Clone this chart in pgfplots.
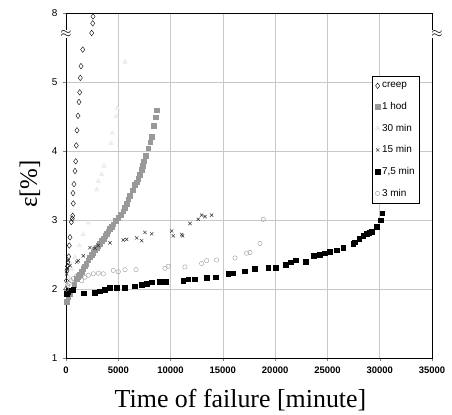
\documentclass[border=0pt]{standalone}
\usepackage{fontspec}
\setmainfont{Liberation Serif}
\newfontfamily\arial{Liberation Sans}
\usepackage{pgfplots}
\pgfplotsset{compat=1.18}
\definecolor{gridgray}{HTML}{C8C8C8}
\definecolor{hodgray}{HTML}{999999}
\definecolor{trigray}{HTML}{EDEDED}
\begin{document}
\begin{tikzpicture}
\useasboundingbox (-66bp,-57bp) rectangle (386bp,358bp);
\begin{axis}[
  scale only axis, width=366bp, height=345bp,
  xmin=0, xmax=35000, ymin=1, ymax=6,
  xtick={0,5000,...,35000},
  ytick={1,2,3,4,5,6}, yticklabels={1,2,3,4,5,8},
  scaled x ticks=false,
  x tick label style={font=\arial\bfseries\fontsize{9.5}{10}\selectfont, /pgf/number format/1000 sep={}, yshift=-2bp},
  y tick label style={font=\arial\fontsize{10}{11}\selectfont, xshift=-2bp},
  /pgf/number format/assume math mode=true,
  xtick pos=left, ytick pos=left, tick align=outside,
  major tick length=3bp,
  grid=major, major grid style={gridgray, line width=0.6pt},
  axis line style={black, line width=0.7pt},
  xlabel={Time of failure [minute]},
  xlabel style={font=\fontsize{26}{28}\selectfont, at={(rel axis cs:0.5,0)}, anchor=center, yshift=-42bp, xshift=-8.5bp},
  legend style={at={(rel axis cs:0.836,0.817)}, anchor=north west, draw=black, line width=0.5pt,
    font=\arial\fontsize{10}{11}\selectfont, inner xsep=3bp, inner ysep=4bp, row sep=9bp,
    cells={anchor=west}},
  legend image code/.code={\draw[#1] plot coordinates {(0.1cm,0cm)};},
  clip=true,
]
% creep
\addplot[only marks, mark=diamond, mark size=2.8bp, mark options={black, line width=0.4pt, fill=white}] coordinates {
(0,2.0)(48,2.12)(96,2.27)(150,2.33)(191,2.39)(258,2.47)(315,2.63)(382,2.75)(507,2.97)(600,3.02)(640,3.06)(698,3.24)(669,3.39)(765,3.52)(860,3.71)(927,3.85)(985,4.08)(1052,4.30)(1147,4.51)(1243,4.71)(1310,4.85)(1367,5.06)(1434,5.23)(1597,5.47)(2457,5.71)(2550,5.85)(2581,5.95)};
\addlegendentry{creep}
% 1 hod
\addplot[only marks, mark=square*, mark size=2.3bp, mark options={hodgray, draw=hodgray}] coordinates {
(67,1.82)(200,1.88)(350,1.93)(545,1.98)(780,2.06)(1023,2.15)(1160,2.18)(1300,2.21)(1480,2.25)(1654,2.29)(1800,2.33)(1950,2.37)(2120,2.42)(2294,2.46)(2450,2.50)(2600,2.53)(2770,2.57)(2935,2.60)(3090,2.63)(3250,2.66)(3420,2.70)(3600,2.73)(3750,2.77)(3891,2.80)(4050,2.84)(4200,2.87)(4360,2.90)(4522,2.94)(4760,2.99)(5000,3.03)(5240,3.08)(5478,3.13)(5640,3.18)(5800,3.24)(5960,3.30)(6118,3.35)(6350,3.43)(6596,3.51)(6750,3.55)(6900,3.60)(7070,3.66)(7237,3.73)(7350,3.79)(7457,3.85)(7650,3.93)(7868,4.04)(8050,4.13)(8193,4.21)(8413,4.37)(8604,4.49)(8671,4.59)};
\addlegendentry{1 hod}
% 30 min
\addplot[only marks, mark=triangle*, mark size=2.8bp, mark options={trigray, draw=trigray}] coordinates {
(124,2.07)(315,2.17)(545,2.29)(860,2.46)(1272,2.63)(1654,2.79)(2130,2.96)(2935,3.44)(3090,3.56)(3410,3.66)(3633,3.78)(4302,4.11)(4430,4.26)(4780,4.50)(4905,4.62)(5640,5.29)};
\addlegendentry{30 min}
% 15 min
\addplot[only marks, mark=x, mark size=2.3bp, mark options={black!80, line width=0.5pt}] coordinates {
(60,2.22)(100,2.28)(150,2.31)(220,2.41)(382,2.34)(1023,2.39)(1176,2.41)(1654,2.48)(2294,2.60)(2772,2.59)(3090,2.63)(4206,2.67)(5478,2.71)(5800,2.72)(6759,2.74)(7237,2.70)(7552,2.82)(8193,2.80)(10105,2.84)(10258,2.77)(11061,2.79)(11150,2.77)(11854,2.95)(12648,3.01)(12973,3.07)(13288,3.05)(13929,3.07)};
\addlegendentry{15 min}
% 7.5 min
\addplot[only marks, mark=square*, mark size=2.3bp, mark options={black}] coordinates {
(67,1.93)(220,1.96)(382,1.98)(698,1.99)(1721,1.94)(2772,1.95)(3250,1.97)(3728,1.99)(4206,2.02)(4845,2.02)(5640,2.02)(6596,2.04)(7237,2.06)(7715,2.08)(8193,2.10)(8986,2.11)(9530,2.11)(11214,2.12)(11692,2.14)(12332,2.14)(13450,2.16)(14340,2.17)(15517,2.22)(15994,2.23)(17112,2.26)(18068,2.29)(19340,2.31)(20076,2.31)(21032,2.35)(21481,2.39)(21988,2.42)(22915,2.40)(23709,2.48)(24282,2.50)(24760,2.52)(25238,2.54)(25879,2.56)(26510,2.60)(27465,2.66)(27628,2.68)(28039,2.73)(28422,2.77)(28747,2.80)(28996,2.82)(29225,2.83)(29703,2.90)(30086,3.00)(30239,3.10)};
\addlegendentry{7,5 min}
% 3 min
\addplot[only marks, mark=o, mark size=2.2bp, mark options={hodgray, line width=0.4pt}] coordinates {
(50,2.0)(150,2.05)(300,2.08)(500,2.12)(700,2.15)(1023,2.19)(1500,2.12)(1816,2.17)(2130,2.20)(2610,2.22)(3090,2.23)(3566,2.22)(4522,2.27)(5000,2.25)(5640,2.28)(6692,2.28)(9464,2.30)(9780,2.33)(11376,2.32)(12973,2.37)(13450,2.41)(14407,2.42)(16156,2.45)(17275,2.52)(17590,2.53)(18546,2.66)(18865,3.01)};
\addlegendentry{3 min}
\end{axis}
\node[rotate=90, font=\fontsize{25}{27}\selectfont, inner sep=0pt] at (-36bp,174bp) {ε[\%]};
\node[fill=white, inner sep=0.3bp, font=\fontsize{14}{14}\selectfont] at (0bp,324bp) {$\approx$};
\node[fill=white, inner sep=0.3bp, font=\fontsize{14}{14}\selectfont] at (371bp,324bp) {$\approx$};
\end{tikzpicture}
\end{document}
